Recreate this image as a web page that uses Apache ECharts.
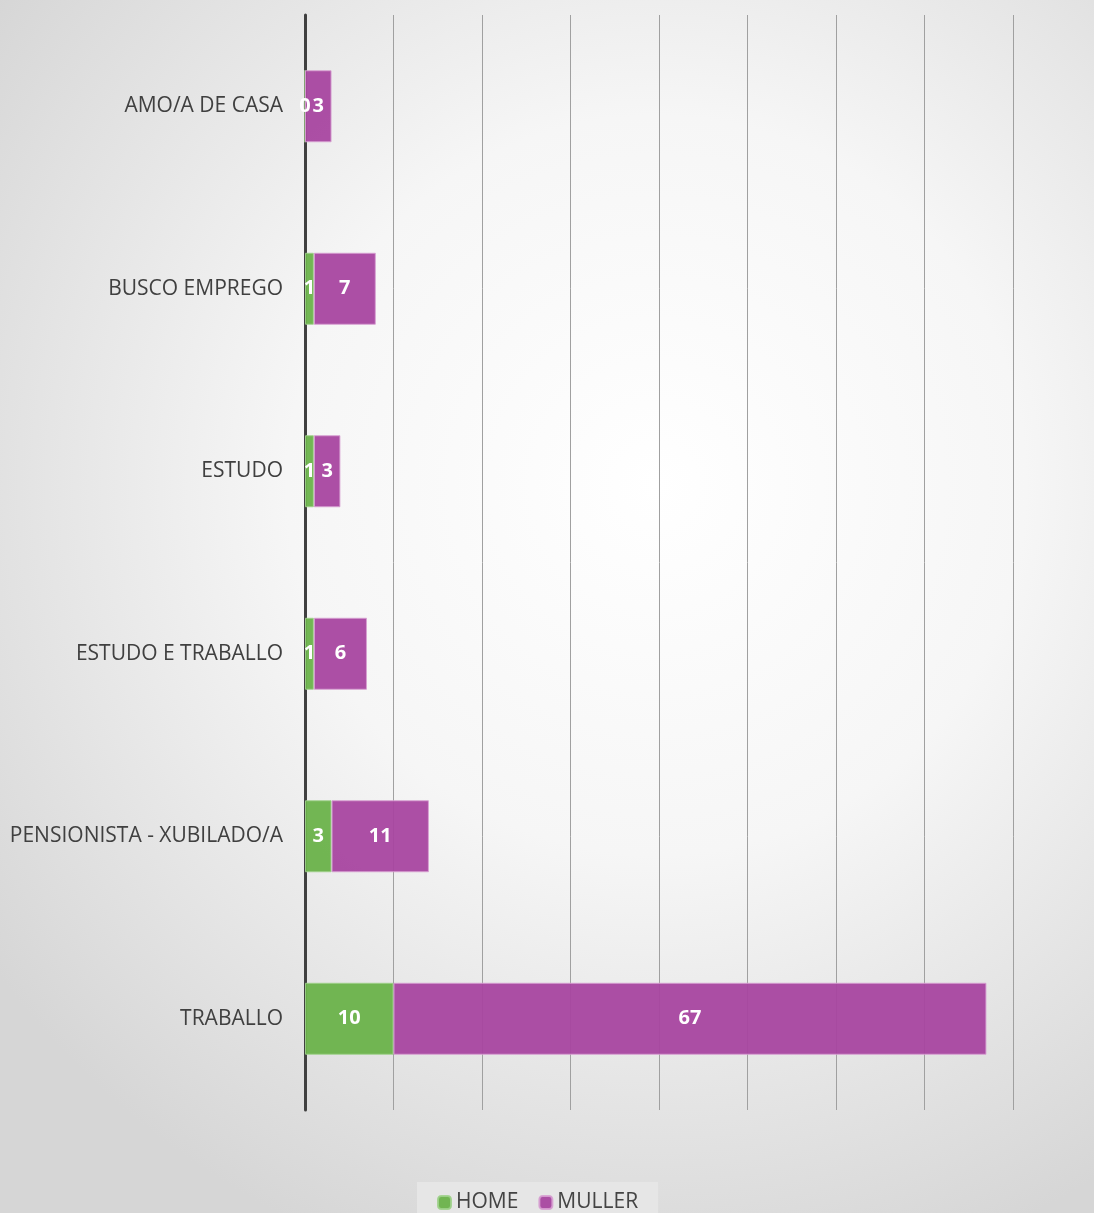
<!DOCTYPE html>
<html><head><meta charset="utf-8">
<script src="https://cdn.jsdelivr.net/npm/echarts@6/dist/echarts.min.js"></script>
<style>html,body{margin:0;padding:0;}#c{width:1094px;height:1213px;}</style>
</head><body><div id="c"></div>
<script>
const categories = ['AMO/A DE CASA','BUSCO EMPREGO','ESTUDO','ESTUDO E TRABALLO','PENSIONISTA - XUBILADO/A','TRABALLO'];
const homeValues = [0,1,1,1,3,10];
const mullerValues = [3,7,3,6,11,67];

const chart = echarts.init(document.getElementById('c'));
const lbl = {show:true, color:'#fff', fontWeight:'bold', fontSize:20, fontFamily:'Open Sans', padding:[6,0,0,0]};
chart.setOption({
  backgroundColor:{type:'radial',x:0.6,y:0.4,r:0.75,colorStops:[{offset:0,color:'#ffffff'},{offset:0.45,color:'#f6f6f6'},{offset:1,color:'#d6d6d6'}]},
  animation:false,
  grid:{left:305,right:81,top:15,bottom:103,containLabel:false},
  legend:{bottom:-14,left:417,itemWidth:13,itemHeight:13,itemGap:20,
    padding:[10,20,14,20],backgroundColor:'#e6e6e6',
    textStyle:{fontSize:21,color:'#444',fontFamily:'Open Sans'},
    data:['HOME','MULLER']},
  xAxis:{type:'value',min:0,max:80,interval:10,
    axisLabel:{show:false},axisLine:{show:false},axisTick:{show:false},
    splitLine:{show:true,lineStyle:{color:'#a0a0a0',width:1}}},
  yAxis:{type:'category',inverse:true,data:categories,
    axisLine:{show:true,lineStyle:{color:'#404040',width:3}},
    axisTick:{show:false},
    axisLabel:{fontSize:21,color:'#404040',fontFamily:'Open Sans',margin:22,padding:[8,0,0,0]}},
  series:[
    {name:'HOME',type:'bar',stack:'t',data:homeValues,barWidth:72,
     itemStyle:{color:'rgba(106,178,74,0.95)',borderColor:'rgba(160,210,140,0.9)',borderWidth:1},
     label:Object.assign({position:'inside'},lbl)},
    {name:'MULLER',type:'bar',stack:'t',data:mullerValues,barWidth:72,
     itemStyle:{color:'rgba(168,70,160,0.95)',borderColor:'rgba(215,160,210,0.9)',borderWidth:1},
     label:Object.assign({position:'inside'},lbl)}
  ]
});
</script></body></html>
